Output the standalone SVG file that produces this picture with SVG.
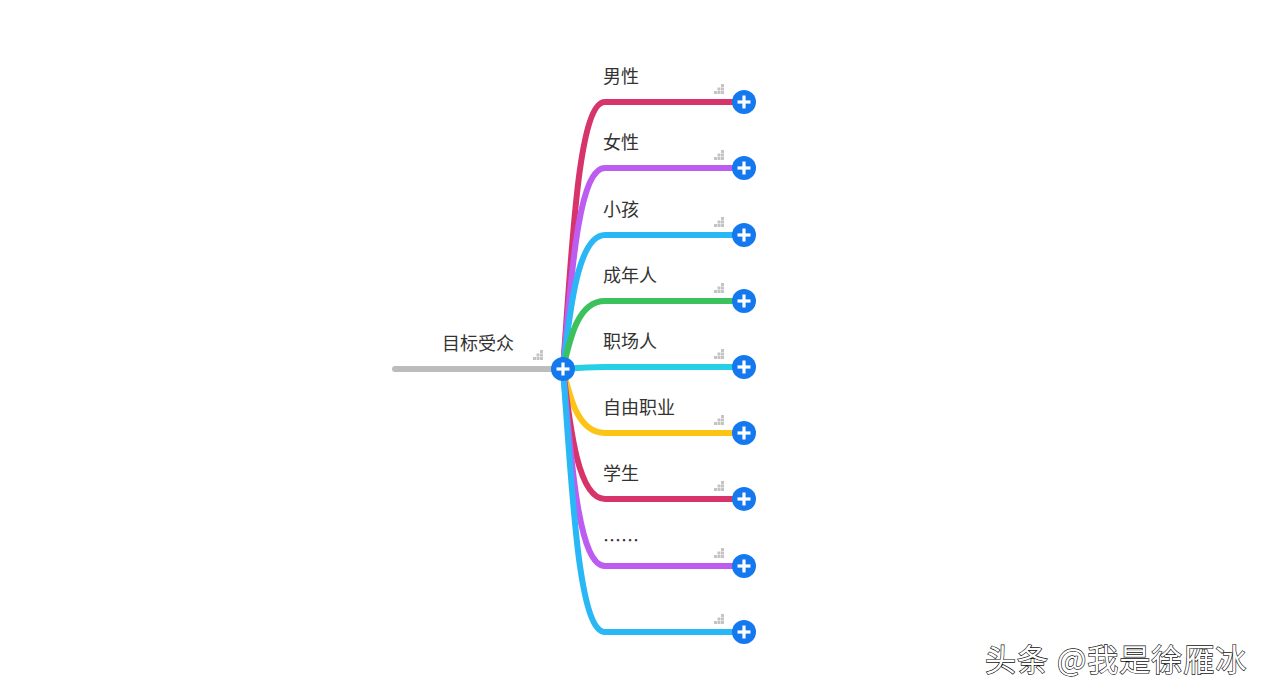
<svg xmlns="http://www.w3.org/2000/svg" width="1269" height="695" viewBox="0 0 1269 695">
<defs>
<style>
.br{fill:none;stroke-width:6;stroke-linecap:round;stroke-linejoin:round}
.lbl{font-family:"Noto Sans CJK SC","Noto Sans",sans-serif;font-size:18px;fill:#333}
.pc{fill:#1479ee}
.pl{stroke:#fff;stroke-width:3.2;stroke-linecap:butt}
.gr{fill:#c4c4c4}
.wm{font-family:"Noto Sans CJK SC","Noto Sans",sans-serif;font-size:31px;letter-spacing:1px;fill:#fff;stroke:#111;stroke-width:1.3;paint-order:stroke}
</style>
<g id="plus">
<circle class="pc" r="12"/>
<line class="pl" x1="-6.5" y1="0" x2="6.5" y2="0"/>
<line class="pl" x1="0" y1="-6.5" x2="0" y2="6.5"/>
</g>
<g id="grid">
<rect class="gr" x="7" y="0" width="3" height="3"/>
<rect class="gr" x="3.5" y="3.5" width="3" height="3"/>
<rect class="gr" x="7" y="3.5" width="3" height="3"/>
<rect class="gr" x="0" y="7" width="3" height="3"/>
<rect class="gr" x="3.5" y="7" width="3" height="3"/>
<rect class="gr" x="7" y="7" width="3" height="3"/>
</g>
</defs>
<rect width="1269" height="695" fill="#fff"/>
<g id="connectors">
<line x1="395" y1="369" x2="560" y2="369" stroke="#bcbcbc" stroke-width="6" stroke-linecap="round"/>
<path class="br" stroke="#d6346b" d="M563,369 C572,249 578,102 605,102 L744,102"/>
<path class="br" stroke="#bd5cf0" d="M563,369 C571,279 578,168 605,168 L744,168"/>
<path class="br" stroke="#29b7f6" d="M563,369 C570,309 578,235 605,235 L744,235"/>
<path class="br" stroke="#3cc25c" d="M563,369 C570,338 578,301 605,301 L744,301"/>
<path class="br" stroke="#25d0e4" d="M563,369 C575,368 585,367 605,367 L744,367"/>
<path class="br" stroke="#fcc515" d="M563,369 C570,398 578,433 605,433 L744,433"/>
<path class="br" stroke="#d6346b" d="M563,369 C570,428 578,499 605,499 L744,499"/>
<path class="br" stroke="#bd5cf0" d="M563,369 C571,458 578,566 605,566 L744,566"/>
<path class="br" stroke="#29b7f6" d="M563,369 C572,488 578,632 605,632 L744,632"/>
</g>
<g id="root">
<text class="lbl" x="442" y="350">目标受众</text>
<use href="#grid" x="533" y="350"/>
<use href="#plus" x="563" y="369"/>
</g>
<g id="n1"><text class="lbl" x="603" y="83">男性</text><use href="#grid" x="714" y="84"/><use href="#plus" x="744" y="102"/></g>
<g id="n2"><text class="lbl" x="603" y="149">女性</text><use href="#grid" x="714" y="150"/><use href="#plus" x="744" y="168"/></g>
<g id="n3"><text class="lbl" x="603" y="216">小孩</text><use href="#grid" x="714" y="217"/><use href="#plus" x="744" y="235"/></g>
<g id="n4"><text class="lbl" x="603" y="282">成年人</text><use href="#grid" x="714" y="283"/><use href="#plus" x="744" y="301"/></g>
<g id="n5"><text class="lbl" x="603" y="348">职场人</text><use href="#grid" x="714" y="349"/><use href="#plus" x="744" y="367"/></g>
<g id="n6"><text class="lbl" x="603" y="414">自由职业</text><use href="#grid" x="714" y="415"/><use href="#plus" x="744" y="433"/></g>
<g id="n7"><text class="lbl" x="603" y="480">学生</text><use href="#grid" x="714" y="481"/><use href="#plus" x="744" y="499"/></g>
<g id="n8"><text class="lbl" x="603" y="547">……</text><use href="#grid" x="714" y="548"/><use href="#plus" x="744" y="566"/></g>
<g id="n9"><use href="#grid" x="714" y="614"/><use href="#plus" x="744" y="632"/></g>
<text class="wm" x="985" y="671">头条 @我是徐雁冰</text>
</svg>
